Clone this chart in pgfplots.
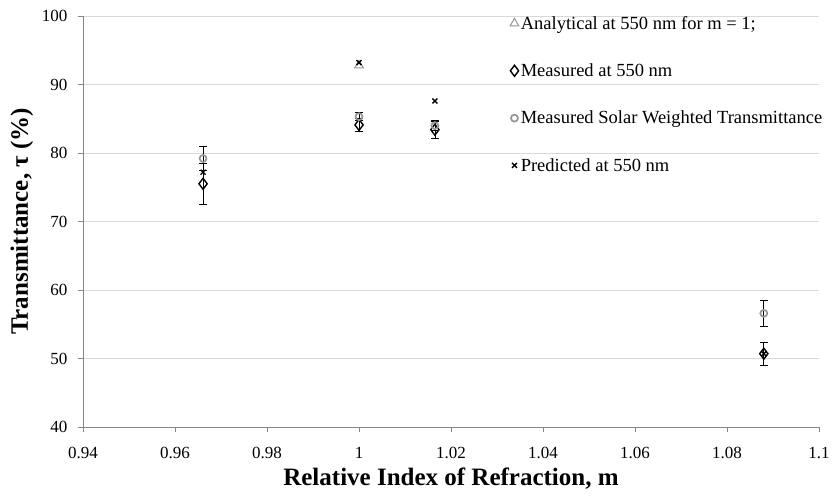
\documentclass[border=0pt]{standalone}
\usepackage{fontspec}
\setmainfont{Liberation Serif}
\usepackage{pgfplots}
\pgfplotsset{compat=1.18}
\definecolor{gridgray}{RGB}{217,217,217}
\definecolor{axgray}{RGB}{134,134,134}
\definecolor{mkgray}{RGB}{150,150,150}
\begin{document}
\begin{tikzpicture}
\begin{axis}[
  scale only axis, width=736pt, height=411pt,
  xmin=0.94, xmax=1.1, ymin=40, ymax=100,
  xtick={0.94,0.96,0.98,1.0,1.02,1.04,1.06,1.08,1.1},
  xticklabels={0.94,0.96,0.98,1,1.02,1.04,1.06,1.08,1.1},
  ytick={40,50,60,70,80,90,100},
  ymajorgrids, major grid style={gridgray, line width=0.9pt},
  axis lines*=left,
  axis line style={-, axgray, line width=0.8pt},
  tick style={axgray, line width=0.8pt}, tick align=outside, major tick length=5pt,
  /pgf/number format/assume math mode=true,
  tick label style={font=\fontsize{17}{17}\selectfont},
  xticklabel style={yshift=-12pt},
  yticklabel style={xshift=-7pt},
  xlabel={Relative Index of Refraction, m},
  ylabel={Transmittance, τ (\%)},
  label style={font=\bfseries\fontsize{25}{25}\selectfont},
  xlabel style={yshift=-2pt},
  ylabel style={yshift=2pt},
  legend style={at={(0.576,1.010)}, anchor=north west, draw=none, fill=none,
    font=\fontsize{18.5}{18.5}\selectfont, row sep=29pt},
  legend cell align=left,
  error bars/error bar style={black, line width=0.8pt},
  error bars/error mark options={rotate=90, mark size=4pt, black, line width=0.8pt},
]
\coordinate (O) at (rel axis cs:0,0);
\addplot[only marks, mark=triangle, mark size=5pt, mark options={draw=mkgray, fill=white, line width=1pt}]
  coordinates {(1.0,92.8)};
\addlegendentry{Analytical at 550 nm for m = 1;}
\addplot[only marks, mark=diamond, mark size=5.5pt, mark options={draw=black, fill=white, line width=1.4pt},
  error bars/.cd, y dir=both, y explicit]
  coordinates {(0.9661,75.5) +- (0,3.0) (1.0,84.1) +- (0,1.0) (1.0165,83.4) +- (0,1.2) (1.088,50.7) +- (0,1.7)};
\addlegendentry{Measured at 550 nm}
\addplot[only marks, mark=o, mark size=3.5pt, mark options={draw=mkgray, line width=1.7pt},
  error bars/.cd, y dir=both, y explicit]
  coordinates {(0.9661,79.2) +- (0,1.8) (1.0,85.3) +- (0,0.6) (1.0165,84.0) +- (0,0.7) (1.088,56.6) +- (0,1.9)};
\addlegendentry{Measured Solar Weighted Transmittance}
\addplot[only marks, mark=x, mark size=3.5pt, mark options={draw=black, line width=1.4pt}]
  coordinates {(0.9661,77.2) (1.0,93.2) (1.0165,87.6) (1.088,50.7)};
\addlegendentry{Predicted at 550 nm}
\end{axis}
\path (O) ++(-83pt,-69pt) rectangle ++(833pt,496pt);
\end{tikzpicture}
\end{document}
